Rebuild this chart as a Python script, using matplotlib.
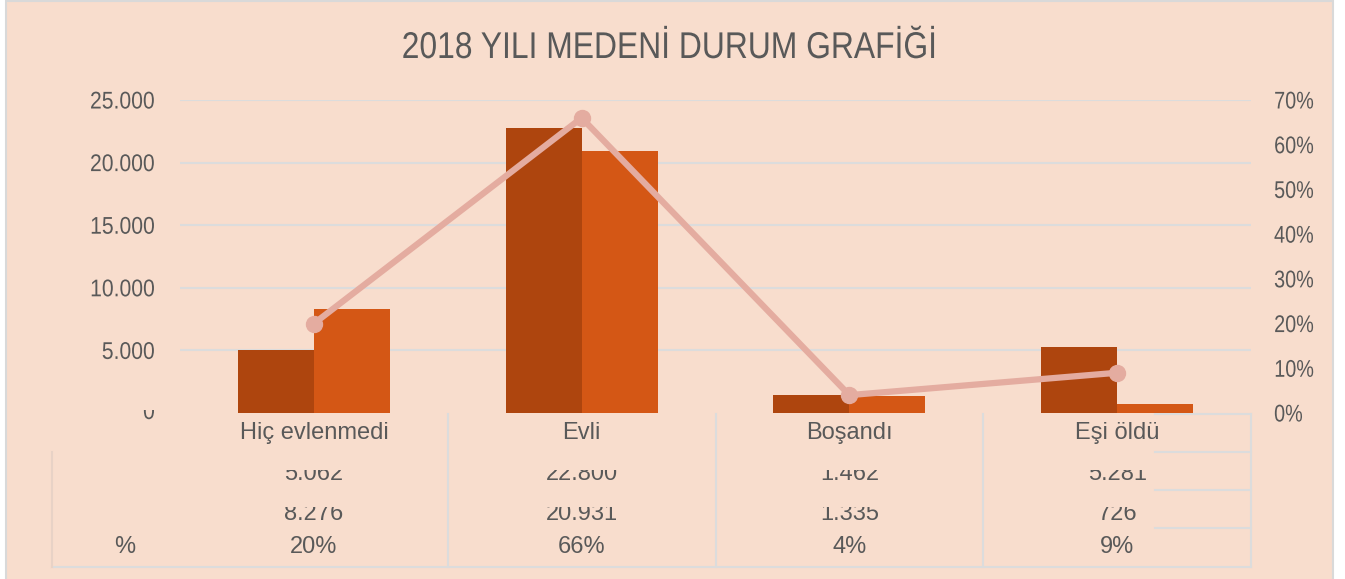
import matplotlib
matplotlib.use("Agg")
import matplotlib.pyplot as plt
from matplotlib.patches import Rectangle
from matplotlib.patheffects import AbstractPathEffect
from matplotlib.transforms import Bbox, Affine2D
import numpy as np

# veriler
kategoriler = ["Hiç evlenmedi", "Evli", "Boşandı", "Eşi öldü"]
seri1 = [5062, 22800, 1462, 5281]
seri2 = [8276, 20931, 1335, 726]
yuzde = [0.20, 0.66, 0.04, 0.09]
sol_ticks = [0, 5000, 10000, 15000, 20000, 25000]
sag_ticks = [0.0, 0.1, 0.2, 0.3, 0.4, 0.5, 0.6, 0.7]

W, H = 1345, 579
ARKA = "#F8DDCD"
GRI = "#595959"
CIZGI = "#DCDCDC"

plt.rcParams["font.family"] = ["Liberation Sans", "DejaVu Sans"]


class Daralt(AbstractPathEffect):
    # yaziyi yatayda biraz sikistirir (dar font etkisi)
    def __init__(self, sx, hiza="center"):
        super().__init__()
        self.sx = sx
        self.hiza = hiza

    def draw_path(self, renderer, gc, tpath, affine, rgbFace=None):
        ext = tpath.get_extents(affine)
        cx = {"left": ext.x0, "center": (ext.x0 + ext.x1) / 2, "right": ext.x1}[self.hiza]
        aff = affine + Affine2D().translate(-cx, 0).scale(self.sx, 1).translate(cx, 0)
        renderer.draw_path(gc, tpath, aff, rgbFace)


fig = plt.figure(figsize=(W / 100, H / 100), dpi=100)
fig.patch.set_facecolor("white")

# arka plan ve cerceve
fig.add_artist(Rectangle((6 / W, -0.01), (1333 - 6) / W, (H - 1) / H + 0.01,
                         transform=fig.transFigure, facecolor=ARKA, edgecolor="#D9D9D9",
                         linewidth=1.5, zorder=-10))


def py(y):
    # goruntu pikselinden figure oranina
    return (H - y) / H


x0, x1 = 180, 1251
ytop, ybot = 100, 413
ax = fig.add_axes([x0 / W, py(ybot), (x1 - x0) / W, (ybot - ytop) / H])
ax.set_facecolor("none")
for s in ax.spines.values():
    s.set_visible(False)

x = np.arange(len(kategoriler))
bw = 0.284
ax.bar(x - bw / 2, seri1, bw, color="#AE450E", zorder=3)
ax.bar(x + bw / 2, seri2, bw, color="#D45715", zorder=3)
ax.set_xlim(-0.5, len(kategoriler) - 0.5)
ax.set_ylim(0, 25000)
ax.set_yticks(sol_ticks[1:])
etiketler = ax.set_yticklabels([f"{v:,}".replace(",", ".") for v in sol_ticks[1:]])
for t in etiketler:
    t.set_path_effects([Daralt(0.875, "right")])
ax.tick_params(axis="y", length=0, pad=18, labelsize=17.4, labelcolor=GRI)
ax.set_xticks([])
ax.grid(axis="y", color=CIZGI, linewidth=1.5, zorder=0)

ax2 = ax.twinx()
ax2.plot(x, yuzde, color="#E4ACA0", linewidth=4.5, marker="o", markersize=11.5, zorder=5)
ax2.set_ylim(0, 0.7)
ax2.set_yticks(sag_ticks)
etiketler2 = ax2.set_yticklabels([f"{int(round(v * 100))}%" for v in sag_ticks])
for t in etiketler2:
    t.set_path_effects([Daralt(0.82, "left")])
ax2.tick_params(axis="y", length=0, pad=16.5, labelsize=17.4, labelcolor=GRI)
for s in ax2.spines.values():
    s.set_visible(False)

# baslik
fig.text(669 / W, py(58), "2018 YILI MEDENİ DURUM GRAFİĞİ", ha="center", va="baseline",
         fontsize=26.8, color=GRI, path_effects=[Daralt(0.855, "center")])

# kirpik "0" etiketi
t0 = fig.text(155 / W, py(413), "0", ha="right", va="center", fontsize=17.4, color=GRI,
              path_effects=[Daralt(0.875, "right")])
t0.set_clip_box(Bbox([[0, H - 425], [W, H - 410]]))
t0.set_clip_on(True)

# veri tablosu
satir_y = [414, 452, 490, 528, 567]
xt = ax.get_xaxis_transform()


def ax_y(y):
    return (ybot - y) / (ybot - ytop)


cizgi = dict(color=CIZGI, linewidth=1.5, clip_on=False, transform=xt, zorder=1)
for sep in [0.5, 1.5, 2.5, 3.5]:
    ax.plot([sep, sep], [ax_y(414), ax_y(567)], **cizgi)
kes = 3.14
for y in satir_y[:-1]:
    ax.plot([kes, 3.5], [ax_y(y), ax_y(y)], **cizgi)
sol = (52 - x0) / (x1 - x0) * len(kategoriler) - 0.5
ax.plot([sol, 3.5], [ax_y(567), ax_y(567)], **cizgi)
ax.plot([sol, sol], [ax_y(452), ax_y(567)], **dict(cizgi, color="#E8D2C6"))

for i, k in enumerate(kategoriler):
    ax.text(i, ax_y(433), k, transform=xt, ha="center", va="center", fontsize=17,
            color=GRI, clip_on=False)
    for deger, yc, (a, b) in [(seri1[i], 474.5, (470, 481)), (seri2[i], 513.5, (507, 521))]:
        t = ax.text(i, ax_y(yc), f"{deger:,}".replace(",", "."), transform=xt,
                    ha="center", va="center", fontsize=17, color=GRI)
        t.set_clip_box(Bbox([[0, H - b], [W, H - a]]))
        t.set_clip_on(True)
    ax.text(i, ax_y(547), f"{int(round(yuzde[i] * 100))}%", transform=xt, ha="center",
            va="center", fontsize=17, color=GRI, clip_on=False)

fig.text(125 / W, py(547), "%", ha="center", va="center", fontsize=17, color=GRI)

fig.savefig("out.png", dpi=100, facecolor=fig.get_facecolor())
